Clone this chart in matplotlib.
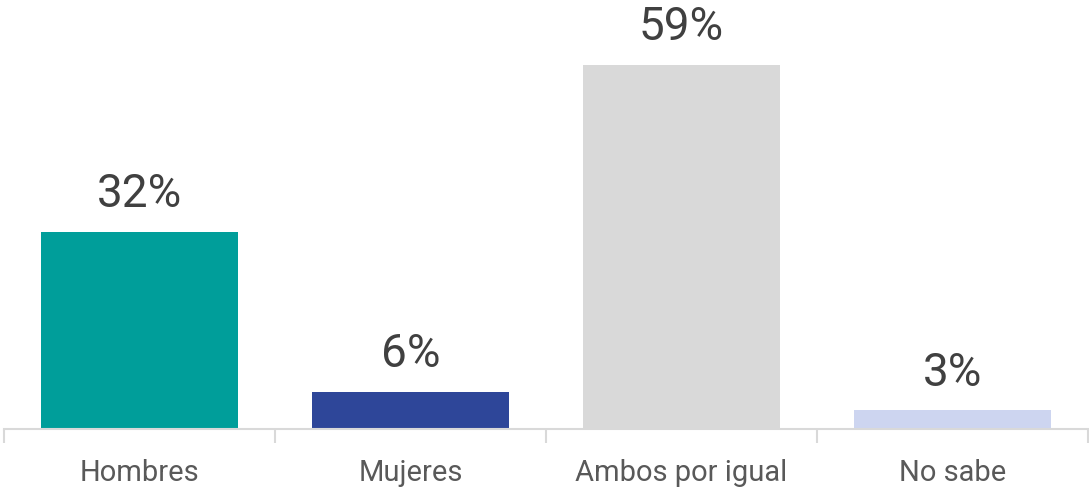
import matplotlib
matplotlib.use("Agg")
import matplotlib.pyplot as plt

categories = ["Hombres", "Mujeres", "Ambos por igual", "No sabe"]
values = [32, 6, 59, 3]
colors = ["#009E9A", "#2E4699", "#D9D9D9", "#CDD5F0"]

W, H = 1089, 489
fig = plt.figure(figsize=(W/100, H/100), dpi=100)
x0, x1 = 4, 1088
ybase, ytop = 430, 0
ax = fig.add_axes([x0/W, (H-ybase)/H, (x1-x0)/W, (ybase-ytop)/H])

ppu = (430-66)/59.0
ax.set_ylim(0, (ybase-ytop)/ppu)
ax.set_xlim(-0.5, len(categories)-0.5)
xs = range(len(categories))
bars = ax.bar(xs, values, width=0.727, color=colors)
for b, v in zip(bars, values):
    ax.annotate(f"{v}%", (b.get_x()+b.get_width()/2, v), xytext=(0, 12),
                textcoords="offset points", ha="center", va="bottom",
                fontsize=33, color="#404040", family="Roboto")

for s in ["top", "right", "left"]:
    ax.spines[s].set_visible(False)
ax.spines["bottom"].set_color("#D9D9D9")
ax.spines["bottom"].set_linewidth(1.5)
ax.set_yticks([])
ax.set_xticks([i-0.5 for i in range(len(categories)+1)], minor=False)
ax.set_xticklabels([])
ax.tick_params(axis="x", which="major", length=10, width=1.5, color="#D9D9D9")
ax.set_xticks(list(xs), minor=True)
ax.set_xticklabels(categories, minor=True, fontsize=21, color="#595959", family="Roboto")
ax.tick_params(axis="x", which="minor", length=0, pad=21)

fig.savefig("out.png", dpi=100)
